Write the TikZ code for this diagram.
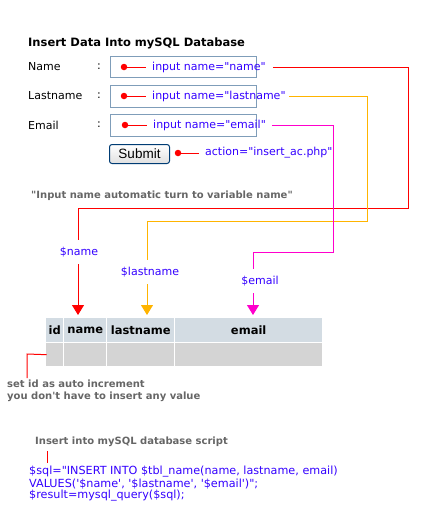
\documentclass[tikz,border=0pt]{standalone}
\usepackage{fontspec}
\setmainfont{DejaVu Sans}[Ligatures=TeXOff]
\newfontfamily\btnfont{Liberation Sans}
\usetikzlibrary{arrows.meta,calc}
\definecolor{inputborder}{HTML}{7F9DB9}
\definecolor{lblblue}{HTML}{3300FF}
\definecolor{myred}{HTML}{FF0000}
\definecolor{myorange}{HTML}{FFB400}
\definecolor{mymag}{HTML}{FF00CC}
\definecolor{graytxt}{HTML}{666666}
\definecolor{btnborder}{HTML}{003C74}
\definecolor{hdrfill}{HTML}{D3DCE3}
\definecolor{rowfill}{HTML}{D4D4D4}
\begin{document}
\begin{tikzpicture}[x=1pt,y=-1pt,
  txt/.style={anchor=west,inner sep=0pt,font=\fontsize{11}{13}\selectfont},
  lbl/.style={txt,text=lblblue},
  varlbl/.style={inner xsep=0pt,inner ysep=7pt,text=lblblue,font=\fontsize{11}{13}\selectfont},
  grayb/.style={anchor=west,inner sep=0pt,text=graytxt,font=\fontsize{10}{12}\selectfont\bfseries},
  code/.style={anchor=west,inner sep=0pt,text=lblblue,font=\fontsize{11.2}{13}\selectfont},
  inbox/.style={draw=inputborder,line width=1pt,minimum width=146pt,minimum height=21pt,inner sep=0pt,anchor=north west},
  reddot/.style={circle,fill=myred,inner sep=0pt,minimum size=6.5pt},
  conn/.style={line width=1pt},
  arr/.style={conn,-{Triangle[width=12pt,length=10pt]}},
  hdr/.style={fill=hdrfill,anchor=north west,inner sep=0pt,minimum height=24pt,font=\fontsize{11.5}{13}\selectfont\bfseries},
  cell/.style={fill=rowfill,anchor=north west,inner sep=0pt,minimum height=23pt},
]
\useasboundingbox (0,0) rectangle (431,528);

% title
\node[anchor=west,inner sep=0pt,font=\fontsize{11.5}{13}\selectfont\bfseries] (title) at (28,43) {Insert Data Into mySQL Database};

% field labels
\node[txt] (fname) at (28,67) {Name};
\node[txt] (flast) at (28,96) {Lastname};
\node[txt] (femail) at (28,125) {Email};
\node[txt] (c1) at (97,67) {:};
\node[txt] (c2) at (97,96) {:};
\node[txt] (c3) at (97,125) {:};

% input boxes
\node[inbox] (in1) at (110,56) {};
\node[inbox,minimum height=22pt] (in2) at (110,85) {};
\node[inbox,minimum height=22pt] (in3) at (110,114) {};

% dots and labels
\node[reddot] (d1) at (124,67) {};
\node[reddot] (d2) at (124,96) {};
\node[reddot] (d3) at (125,125) {};
\node[lbl] (l1) at (152,67) {input name="name"};
\node[lbl] (l2) at (152,96) {input name="lastname"};
\node[lbl] (l3) at (153,125) {input name="email"};
\draw[conn,myred] (d1.center) -- ([xshift=-6pt]l1.west);
\draw[conn,myred] (d2.center) -- ([xshift=-6pt]l2.west);
\draw[conn,myred] (d3.center) -- ([xshift=-6pt]l3.west);

% submit
\node[draw=btnborder,line width=1pt,rounded corners=2.5pt,top color=white,bottom color=black!12,
      minimum width=60pt,minimum height=19pt,inner sep=0pt,anchor=north west,
      font=\btnfont\fontsize{13.5}{15}\selectfont] (submit) at (109,144) {Submit};
\node[reddot] (d4) at (178,153) {};
\node[lbl] (l4) at (205,153) {action="insert\_ac.php"};
\draw[conn,myred] (d4.center) -- ([xshift=-6pt]l4.west);

% note
\node[grayb] (note) at (31,196) {"Input name automatic turn to variable name"};

% variable labels
\node[varlbl] (vname) at (79,252) {\$name};
\node[varlbl] (vlast) at (150,272) {\$lastname};
\node[varlbl] (vemail) at (260,281) {\$email};

% corner coordinates
\coordinate (rn) at (408,208);
\coordinate (rl) at (367,221);
\coordinate (re) at (333,252);
\coordinate (tn) at (78,315);
\coordinate (tl) at (147,315);
\coordinate (te) at (253,315);

% connectors
\draw[conn,myred] ([xshift=7pt]l1.east) -| (rn) -| ([xshift=-1pt]vname.north);
\draw[conn,myorange] ([xshift=3pt]l2.east) -| (rl) -| ([xshift=-3pt]vlast.north);
\draw[conn,mymag] ([xshift=6pt]l3.east) -| (re) -| ([xshift=-7pt]vemail.north);
\draw[arr,myred] ([xshift=-1pt]vname.south) -- (tn);
\draw[arr,myorange] ([xshift=-3pt]vlast.south) -- (tl);
\draw[arr,mymag] ([xshift=-7pt]vemail.south) -- (te);

% table
\node[hdr,minimum width=17pt] (hid) at (46,318) {id};
\node[hdr,minimum width=42pt] (hname) at (64,318) {name};
\node[hdr,minimum width=67pt] (hlast) at (107,318) {lastname};
\node[hdr,minimum width=147pt] (hemail) at (175,318) {email};
\node[cell,minimum width=17pt] (cid) at (46,343) {};
\node[cell,minimum width=42pt] (cname) at (64,343) {};
\node[cell,minimum width=67pt] (clast) at (107,343) {};
\node[cell,minimum width=147pt] (cemail) at (175,343) {};

% auto increment note
\node[grayb] (ai1) at (7,384) {set id as auto increment};
\node[grayb] (ai2) at (7,397) {you don't have to insert any value};
\coordinate (aic) at (27,354);
\coordinate (aib) at (27,378);
\draw[conn,myred] ([xshift=-8pt]cid.center) -- (aic) -- (aib);

% script
\node[grayb] (stitle) at (35,442) {Insert into mySQL database script};
\coordinate (sbar) at (47,451);
\coordinate (sbarb) at (47,463);
\draw[conn,myred] (sbar) -- (sbarb);
\node[code] (code1) at (29,472) {\$sql="INSERT INTO \$tbl\_name(name, lastname, email)};
\node[code] (code2) at (29,484) {VALUES('\$name', '\$lastname', '\$email')";};
\node[code] (code3) at (29,496) {\$result=mysql\_query(\$sql);};
\end{tikzpicture}
\end{document}
